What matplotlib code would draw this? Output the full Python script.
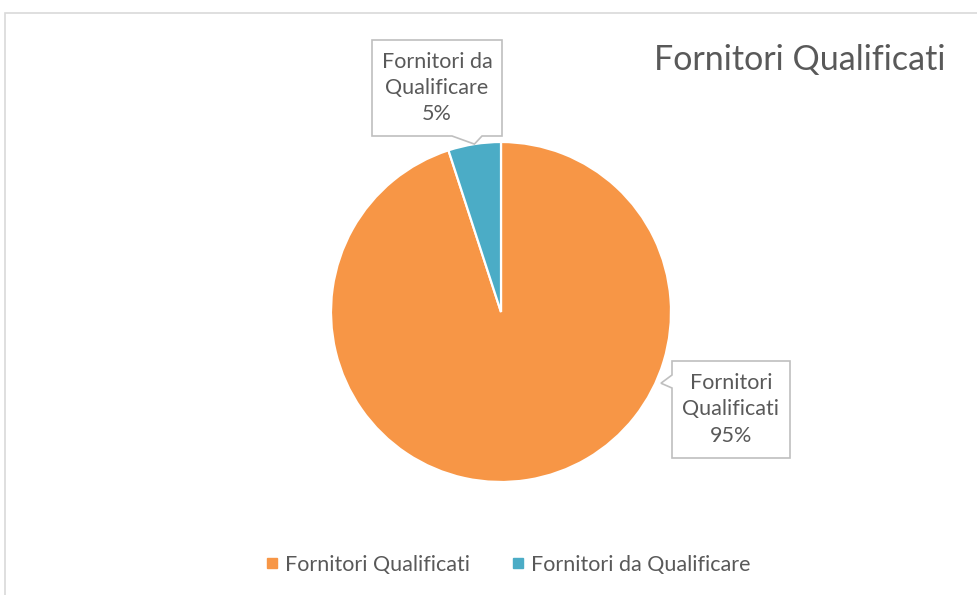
import numpy as np
import matplotlib
matplotlib.use("Agg")
import matplotlib.pyplot as plt
from matplotlib.patches import Polygon, Rectangle
from matplotlib.lines import Line2D

# ---- dati ----
categorie = ["Fornitori Qualificati", "Fornitori da Qualificare"]
valori = [95, 5]
etichette = ["Fornitori\nQualificati\n95%", "Fornitori da\nQualificare\n5%"]
colori = ["#F79646", "#4BACC6"]
titolo = "Fornitori Qualificati"

TXT = "#595959"
plt.rcParams["font.family"] = ["Lato", "DejaVu Sans"]

W, H = 978, 595
fig = plt.figure(figsize=(W / 100, H / 100), dpi=100)

# pie: centro (501,312) px, raggio 170 px
CX, CY, R = 501, 312, 170
ax = fig.add_axes([(CX - R) / W, (H - CY - R) / H, 2 * R / W, 2 * R / H])
wedges, _ = ax.pie(valori, colors=colori, startangle=90, counterclock=False,
                   radius=1.0, wedgeprops=dict(edgecolor="white", linewidth=1.6))
ax.set_xlim(-1, 1); ax.set_ylim(-1, 1)
ax.set_aspect("equal")
ax.axis("off")


def px(x, y):
    """pixel figura -> coordinate dati del pie"""
    return ((x - CX) / R, (CY - y) / R)


def callout(box, side, base, tip, text):
    l, t, r, b = box
    if side == "bottom":
        pts = [(l, t), (r, t), (r, b), (base[1], b), None, (base[0], b), (l, b)]
    else:  # left
        pts = [(l, t), (r, t), (r, b), (l, b), (l, base[1]), None, (l, base[0])]
    verts = [tip if p is None else px(*p) for p in pts]
    ax.add_patch(Polygon(verts, closed=True, fc="white", ec="#BFBFBF", lw=1.2,
                         clip_on=False, zorder=5))
    cx, cy = px((l + r) / 2, (t + b) / 2)
    ax.text(cx, cy, text, ha="center", va="center", fontsize=15.5, color=TXT,
            linespacing=1.38, zorder=6, clip_on=False)


# etichetta fetta blu: punta sul punto medio dell'arco
w = wedges[1]
a = np.deg2rad((w.theta1 + w.theta2) / 2)
callout((372, 40, 502, 136), "bottom", (452, 482), (np.cos(a), np.sin(a)), etichette[1])

# etichetta fetta arancione (best fit, a destra)
a = np.deg2rad(-24)
callout((672, 361, 790, 458), "left", (375, 388), (1.03 * np.cos(a), 1.03 * np.sin(a)), etichette[0])

# titolo
fig.text(800 / W, 1 - 60 / H, titolo, ha="center", va="center", fontsize=24.5, color=TXT)

# legenda
handles = [Line2D([], [], ls="none", marker="s", ms=7, mfc=c, mec=c) for c in colori]
fig.legend(handles, categorie, loc="center", bbox_to_anchor=(506 / W, 1 - 565 / H),
           ncol=2, frameon=False, fontsize=15.5, labelcolor=TXT, handletextpad=0.1,
           columnspacing=1.75, handlelength=1.0)

# bordo area grafico
fig.add_artist(Rectangle((5 / W, -0.1), 1.2, 1 - 13 / H + 0.1, transform=fig.transFigure,
                         fill=False, ec="#D9D9D9", lw=1.2))

fig.savefig("out.png", dpi=100, facecolor="white")
